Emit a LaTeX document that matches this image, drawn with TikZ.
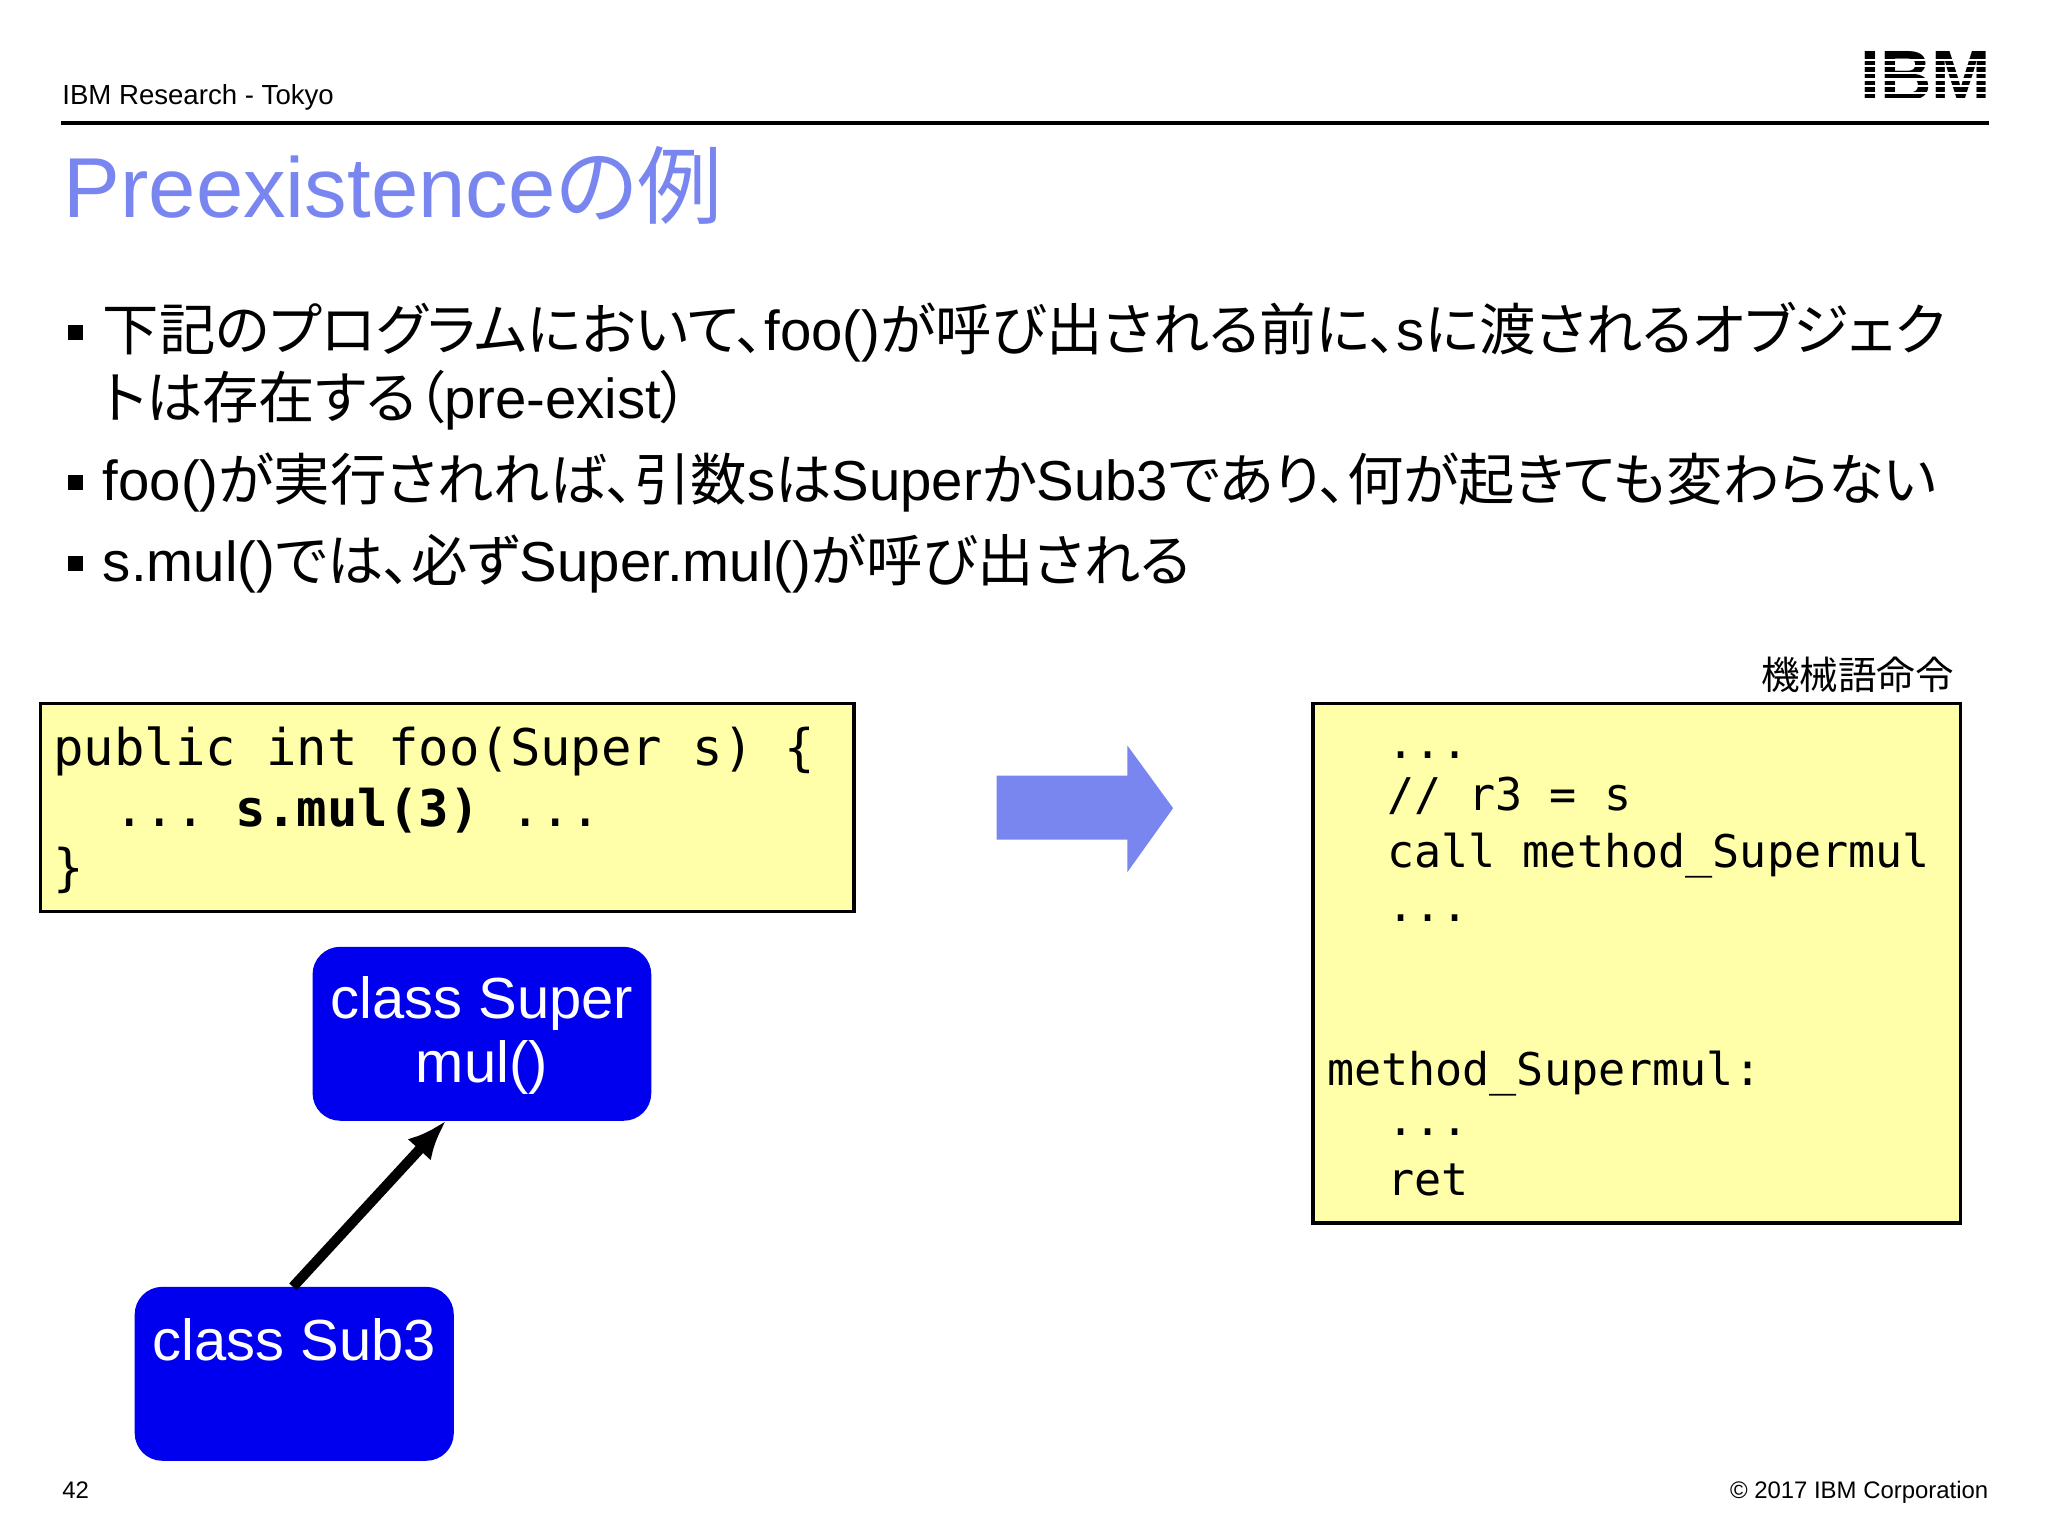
\documentclass[tikz,border=0pt]{standalone}
\usepackage{fontspec}
\setmainfont{Liberation Sans}
\setmonofont{DejaVu Sans Mono}
\newfontfamily\cjk{Noto Sans CJK JP}[RawFeature=+palt]
\usetikzlibrary{arrows.meta, positioning}
\definecolor{titleblue}{RGB}{122,134,240}
\definecolor{codeyellow}{RGB}{255,255,170}
\definecolor{classblue}{RGB}{0,0,238}
\newcommand{\jp}[1]{{\cjk #1}}

\begin{document}
\begin{tikzpicture}[
  x=0.01cm, y=-0.01cm,
  > = {Latex[length=3mm, width=2.4mm]},
  code box/.style = {draw, line width=0.8pt, fill=codeyellow},
  class text/.style = {text=white, font=\fontsize{12.6}{15}\selectfont, align=center},
  bullet/.style = {fill=black, minimum size=3.2pt, inner sep=0pt},
  code/.style = {anchor=base west, inner sep=0pt}
]
  \useasboundingbox (0,0) rectangle (1566,1174);
  % header
  \node[anchor=base west, inner sep=0pt, font=\fontsize{6}{7}\selectfont] (lab) at (47,80) {IBM Research - Tokyo};
  \draw[line width=0.7pt] (47,94) -- (1521,94);
  \node[anchor=base east, inner sep=0pt, font=\fontsize{15.5}{16}\bfseries\selectfont] (logo) at (1523,77) {IBM};
  \foreach \y in {45,50,55,60,65,70,75}
    \fill[white] (1415,\y) rectangle (1525,\y+1.6);
  \node[anchor=base west, inner sep=0pt, text=titleblue, font=\fontsize{18.5}{22}\selectfont] (title) at (48,166) {Preexistence\jp{の例}};
  % bullets
  \begin{scope}[every node/.append style={font=\fontsize{12.25}{14}\selectfont}]
    \node[bullet] (b1) at (58,254) {};
    \node[anchor=base west, inner sep=0pt] (t1) at (78,268) {\jp{下記のプログラムにおいて、}foo()\jp{が呼び出される前に、}s\jp{に渡されるオブジェク}};
    \node[anchor=base west, inner sep=0pt] (t1b) at (78,320) {\jp{トは存在する（}pre-exist\jp{）}};
    \node[bullet] (b2) at (58,369) {};
    \node[anchor=base west, inner sep=0pt] (t2) at (78,383) {foo()\jp{が実行されれば、引数}s\jp{は}Super\jp{か}Sub3\jp{であり、何が起きても変わらない}};
    \node[bullet] (b3) at (58,431) {};
    \node[anchor=base west, inner sep=0pt] (t3) at (78,445) {s.mul()\jp{では、必ず}Super.mul()\jp{が呼び出される}};
  \end{scope}
  % source code
  \draw[code box] (31,538) rectangle (653,697);
  \begin{scope}[every node/.append style={code, font=\ttfamily\fontsize{11}{13}\selectfont}]
    \node (c1) at (40,585) {public int foo(Super s) \{};
    \node (c2) at (40,632) {\ \ ... \textbf{s.mul(3)} ...};
    \node (c3) at (40,677) {\}};
  \end{scope}
  % arrow
  \fill[titleblue] (762,593) -- (862,593) -- (862,570) -- (897,618) -- (862,667) -- (862,642) -- (762,642) -- cycle;
  % machine code
  \node[anchor=base east, inner sep=0pt, font=\fontsize{8.4}{10}\selectfont] (mlab) at (1495,527) {\jp{機械語命令}};
  \draw[code box] (1004,538) rectangle (1499,935);
  \begin{scope}[every node/.append style={code, font=\ttfamily\fontsize{9.8}{12}\selectfont}]
    \node (m1) at (1060,580) {...};
    \node (m2) at (1060,620) {// r3 = s};
    \node (m3) at (1060,663) {call method\_Supermul};
    \node (m4) at (1060,705) {...};
    \node (m5) at (1014,830) {method\_Supermul:};
    \node (m6) at (1060,868) {...};
    \node (m7) at (1060,914) {ret};
  \end{scope}
  % classes
  \fill[classblue, rounded corners=6pt] (239,724) rectangle (498,857);
  \node[class text] (super) at (368.5,792) {class Super\\[-1pt]mul()};
  \fill[classblue, rounded corners=6pt] (103,984) rectangle (347,1117);
  \node[class text, anchor=base] (sub) at (225,1040) {class Sub3};
  \coordinate (subtop) at (224,984);
  \coordinate (supbot) at (341,857);
  \draw[->, line width=2.2pt] (subtop) -- (supbot);
  % footer
  \node[anchor=base west, inner sep=0pt, font=\fontsize{5.2}{6}\selectfont] (pg) at (47,1146) {42};
  \node[anchor=base east, inner sep=0pt, font=\fontsize{5.2}{6}\selectfont] (copy) at (1521,1146) {© 2017 IBM Corporation};
\end{tikzpicture}
\end{document}
